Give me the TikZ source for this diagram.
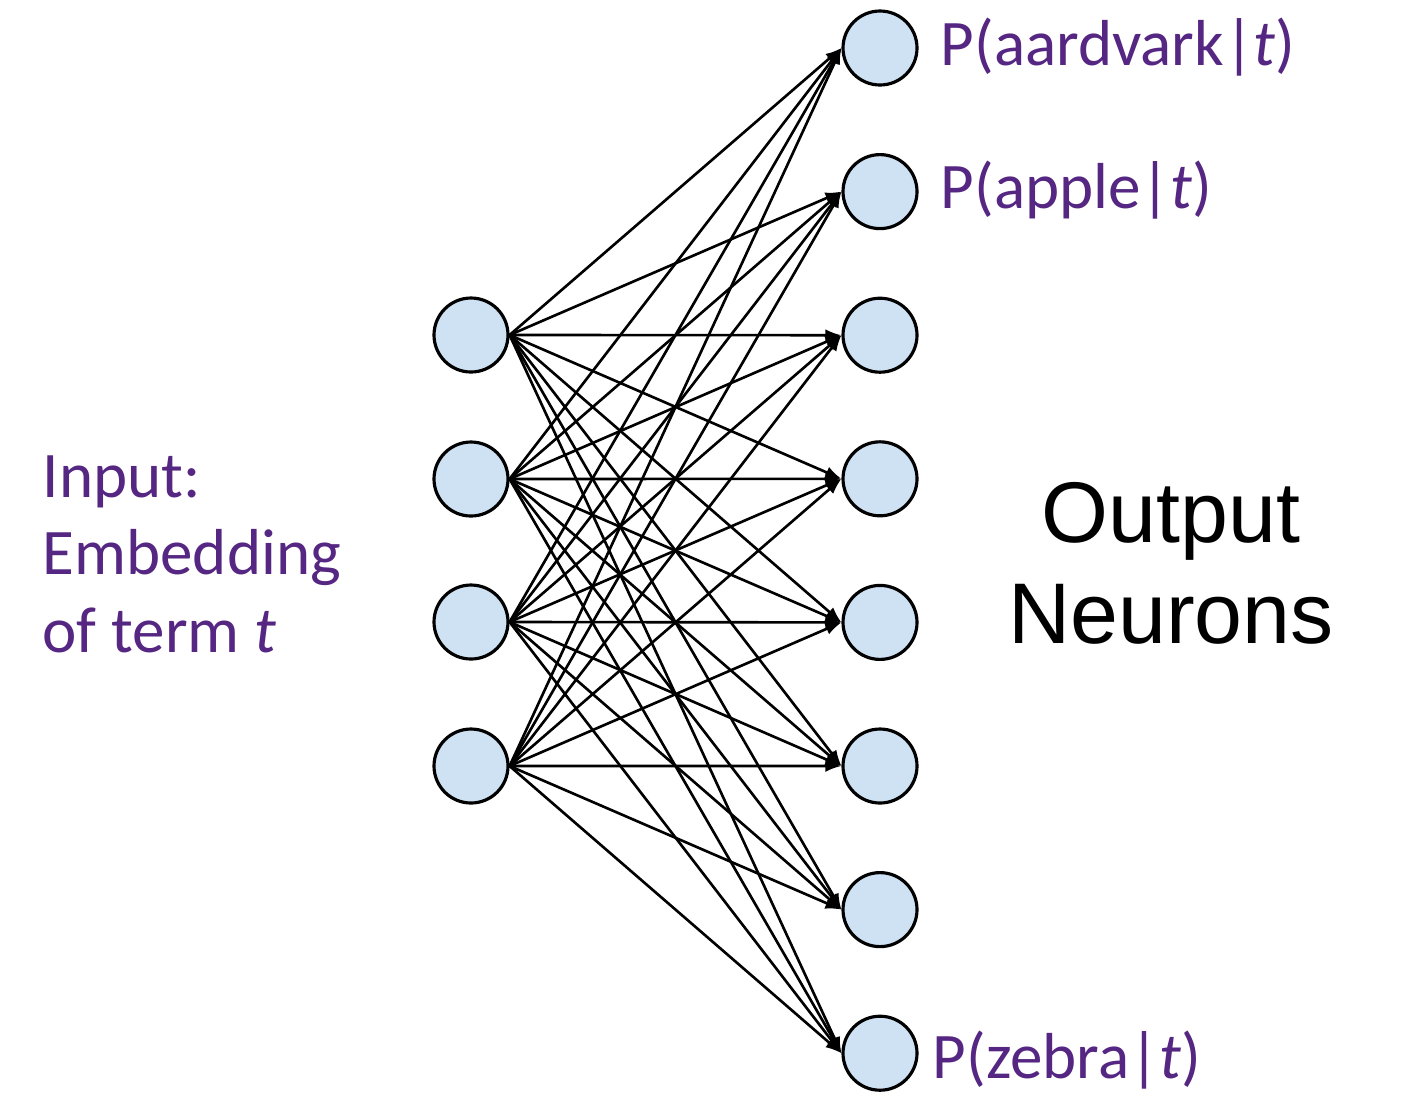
\documentclass[tikz,border=0pt]{standalone}
\usepackage{fontspec}
\setmainfont{Carlito}
\newfontfamily\arialfont{Liberation Sans}
\usetikzlibrary{arrows.meta}
\definecolor{neuronblue}{RGB}{207,226,243}
\definecolor{labelpurple}{RGB}{85,38,130}

\begin{document}
\begin{tikzpicture}[
  neuron/.style={circle, draw=black, line width=0.9pt, fill=neuronblue,
    minimum size=0.74cm, inner sep=0pt},
  weight/.style={-{Latex[length=0.16cm,width=0.12cm]}, line width=0.75pt},
  purpletext/.style={text=labelpurple, font=\fontsize{18.5}{22}\selectfont, inner sep=0pt}
]
  \useasboundingbox (0,0) rectangle (14.06,-11.02);
  % input layer
  \foreach \i/\y in {1/-3.35, 2/-4.79, 3/-6.22, 4/-7.66}
    \node[neuron] (in\i) at (4.71,\y) {};
  % output layer
  \foreach \j in {1,...,8}
    \node[neuron] (out\j) at (8.80,{-0.48-1.436*(\j-1)}) {};
  % every input feeds every output
  \foreach \i in {1,...,4}
    \foreach \j in {1,...,8}
      \draw[weight] (in\i.east) -- (out\j.west);

  \node[purpletext, anchor=north west, align=left] (inputlabel) at (0.42,-4.55)
    {Input:\\Embedding\\of term \textit{t}};
  \node[purpletext, anchor=base west] (paardvark) at (9.40,-0.65) {P(aardvark|\textit{t})};
  \node[purpletext, anchor=base west] (papple) at (9.40,-2.08) {P(apple|\textit{t})};
  \node[purpletext, anchor=base west] (pzebra) at (9.32,-10.78) {P(zebra|\textit{t})};
  %\node at (out3.east) {};
  \node[anchor=north, align=center, inner sep=0pt,
    font=\arialfont\fontsize{24.5}{28.5}\selectfont] (outputlabel) at (11.71,-4.82)
    {Output\\Neurons};
\end{tikzpicture}
\end{document}
